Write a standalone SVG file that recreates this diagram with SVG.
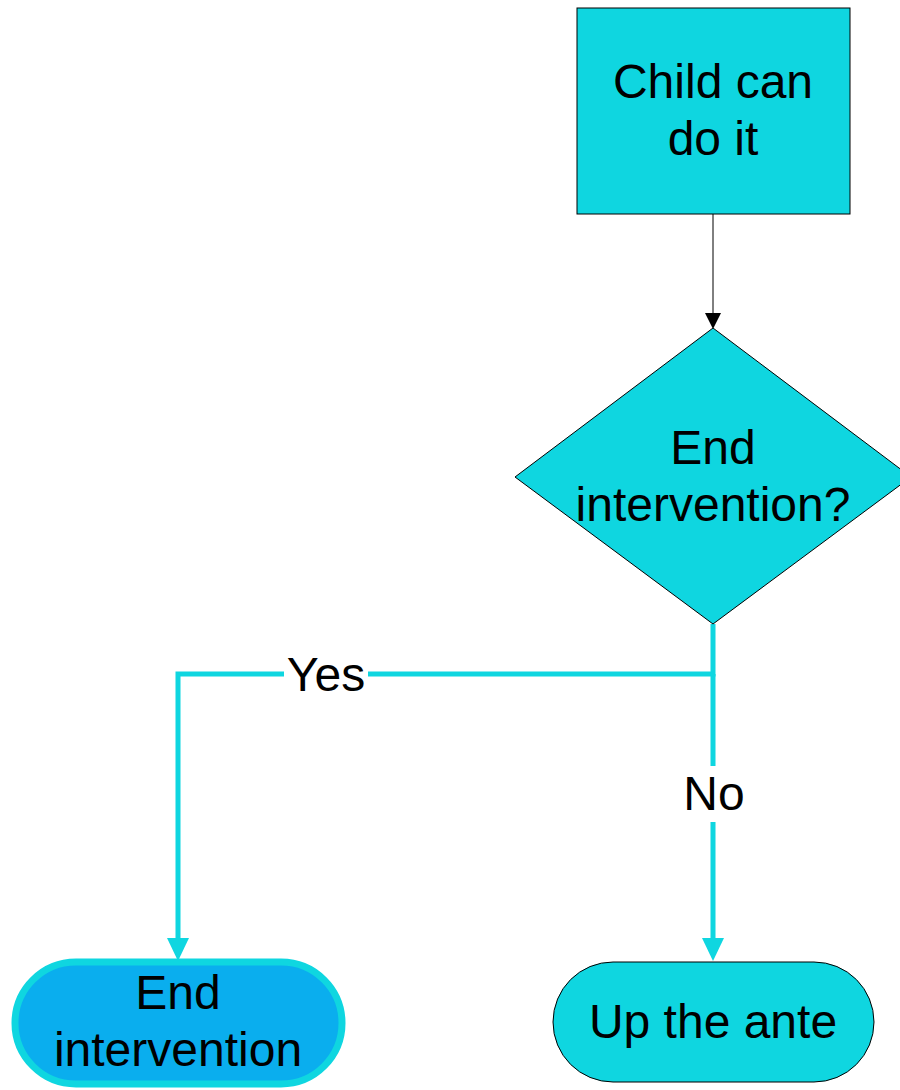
<svg xmlns="http://www.w3.org/2000/svg" width="900" height="1090" viewBox="0 0 900 1090">
<style>
text{font-family:"Liberation Sans",Arial,sans-serif;font-size:48px;fill:#000;text-anchor:middle}
.n{fill:#0fd6e0;stroke:#000;stroke-width:1}
.c{fill:none;stroke:#0fd6e0;stroke-width:5}
.h{fill:#0fd6e0}
</style>
<rect width="900" height="1090" fill="#fff"/>
<g id="connectors">
<line x1="713" y1="214" x2="713" y2="313" stroke="#000" stroke-width="1"/>
<path d="M705,313L721,313L713,329Z" fill="#000"/>
<path class="c" d="M713,624V674H178V940"/>
<path class="c" d="M713,674V940"/>
<path class="h" d="M167,938L189,938L178,961Z"/>
<path class="h" d="M702,938L724,938L713,961Z"/>
<rect x="284" y="652" width="84" height="44" fill="#fff"/>
<text x="326" y="691">Yes</text>
<rect x="680" y="766" width="68" height="56" fill="#fff"/>
<text x="714" y="810">No</text>
</g>
<g id="n1">
<rect class="n" x="577" y="8" width="273" height="206"/>
<text x="713" y="98">Child can</text>
<text x="713" y="155">do it</text>
</g>
<g id="n2">
<polygon class="n" points="713,328 911,477 713,624 515,477"/>
<text x="713" y="464">End</text>
<text x="713" y="521">intervention?</text>
</g>
<g id="n3">
<rect x="15" y="962" width="327" height="122" rx="61" fill="#0aaeee" stroke="#0fd6e0" stroke-width="7"/>
<text x="178" y="1009">End</text>
<text x="178" y="1066">intervention</text>
</g>
<g id="n4">
<rect class="n" x="553" y="962" width="321" height="120" rx="60"/>
<text x="713" y="1038">Up the ante</text>
</g>
</svg>
